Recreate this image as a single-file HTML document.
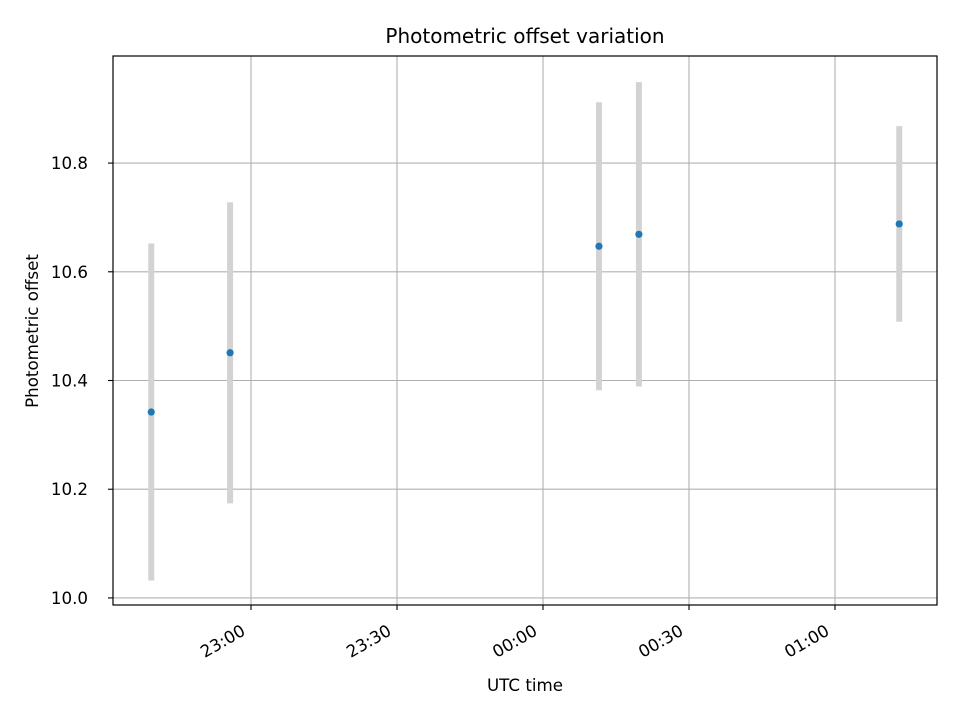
<!DOCTYPE html>
<html><head><meta charset="utf-8">
<style>
html,body{margin:0;padding:0;background:#fff;}
svg{display:block;font-family:"DejaVu Sans","Liberation Sans",sans-serif;}
</style></head>
<body>
<svg id="chart" width="960" height="720" viewBox="0 0 960 720">
<rect x="0" y="0" width="960" height="720" fill="#fff"/>
<g id="grid"></g>
<g id="errs"></g>
<g id="pts"></g>
<rect x="113" y="56" width="824" height="549" fill="none" stroke="#000" stroke-width="1.2"/>
<g id="ticks"></g>
<text x="525" y="43" text-anchor="middle" font-size="20">Photometric offset variation</text>
<text x="525" y="691" text-anchor="middle" font-size="16.7">UTC time</text>
<text transform="translate(38,331) rotate(-90)" text-anchor="middle" font-size="16.7">Photometric offset</text>
</svg>
<script>
// minutes relative to 23:00
const times = [-20.5, -4.3, 71.5, 79.7, 133.2];
const offsets = [10.342, 10.451, 10.647, 10.669, 10.688];
const errors = [0.31, 0.277, 0.265, 0.28, 0.18];
const xTicks = [0, 30, 60, 90, 120];
const xTickLabels = ["23:00", "23:30", "00:00", "00:30", "01:00"];
const yTicks = [10.0, 10.2, 10.4, 10.6, 10.8];
const yTickLabels = ["10.0", "10.2", "10.4", "10.6", "10.8"];

const L=113,R=937,T=56,B=605;
const xMin=-28.36,xMax=140.96,yMin=9.987,yMax=10.997;
const sx=v=>L+(v-xMin)/(xMax-xMin)*(R-L);
const sy=v=>B-(v-yMin)/(yMax-yMin)*(B-T);
const NS="http://www.w3.org/2000/svg";
function mk(tag,attrs,parent){const e=document.createElementNS(NS,tag);for(const k in attrs)e.setAttribute(k,attrs[k]);parent.appendChild(e);return e;}
const grid=document.getElementById('grid'),ticks=document.getElementById('ticks'),errs=document.getElementById('errs'),pts=document.getElementById('pts');

xTicks.forEach((t,i)=>{
  const x=sx(t);
  const g=mk('line',{x1:x,x2:x,y1:T,y2:B,stroke:'#b0b0b0','stroke-width':1.1},grid);
  
  
  const tk=mk('line',{x1:x,x2:x,y1:B,y2:B+5,stroke:'#000','stroke-width':1.1},ticks);
  
  
  const tx=mk('text',{transform:`translate(${x-11},${B+18}) rotate(-30)`,'text-anchor':'end','dominant-baseline':'hanging','font-size':16.7},ticks);
  tx.textContent=xTickLabels[i];
  
  
});
yTicks.forEach((t,i)=>{
  const y=sy(t);
  const g=mk('line',{x1:L,x2:R,y1:y,y2:y,stroke:'#b0b0b0','stroke-width':1.1},grid);
  
  
  const tk=mk('line',{x1:L-5,x2:L,y1:y,y2:y,stroke:'#000','stroke-width':1.1},ticks);
  
  
  const tx=mk('text',{x:L-26+1,y:y+6,'text-anchor':'end','font-size':16.7},ticks);
  tx.setAttribute('x',L-25);
  tx.setAttribute('text-anchor','end');
  tx.setAttribute('x',88);
  tx.textContent=yTickLabels[i];
  
  
});
times.forEach((t,i)=>{
  const x=sx(t);
  const e=mk('line',{x1:x,x2:x,y1:sy(offsets[i]+errors[i]),y2:sy(offsets[i]-errors[i]),stroke:'#d3d3d3','stroke-width':6},errs);
  
  
  const p=mk('circle',{cx:x,cy:sy(offsets[i]),r:3.6,fill:'#1f77b4'},pts);
  
  
});
</script>
</body></html>
